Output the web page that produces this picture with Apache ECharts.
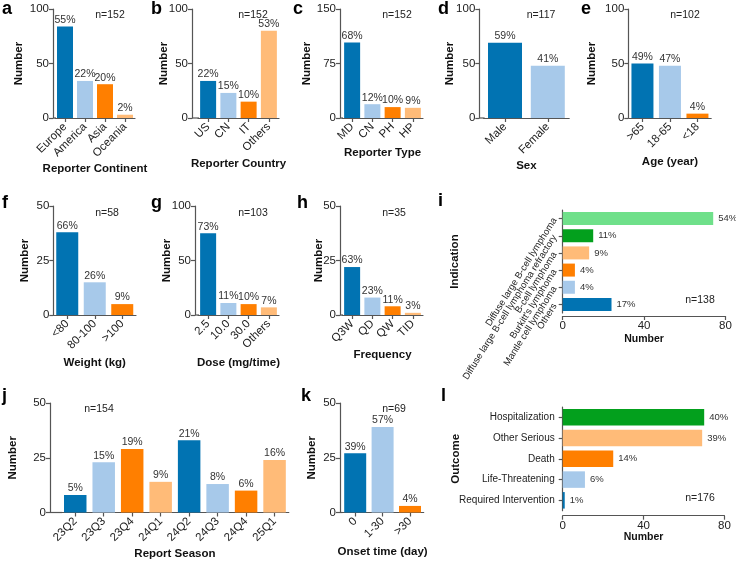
<!DOCTYPE html>
<html>
<head>
<meta charset="utf-8">
<script src="https://cdn.jsdelivr.net/npm/echarts@6/dist/echarts.min.js"></script>
<style>
html,body{margin:0;padding:0;background:#fff;}
#main{width:736px;height:562px;}
</style>
</head>
<body>
<div id="main"></div>
<script>
// a - reporter continent
var continentCats = ['Europe', 'America', 'Asia', 'Oceania'];
var continentVals = [84, 34, 31, 3];
var continentPct = ['55%', '22%', '20%', '2%'];
// b - reporter country
var countryCats = ['US', 'CN', 'IT', 'Others'];
var countryVals = [34, 23, 15, 80];
var countryPct = ['22%', '15%', '10%', '53%'];
// c - reporter type
var typeCats = ['MD', 'CN', 'PH', 'HP'];
var typeVals = [104, 19, 15, 14];
var typePct = ['68%', '12%', '10%', '9%'];
// d - sex
var sexCats = ['Male', 'Female'];
var sexVals = [69, 48];
var sexPct = ['59%', '41%'];
// e - age
var ageCats = ['>65', '18-65', '<18'];
var ageVals = [50, 48, 4];
var agePct = ['49%', '47%', '4%'];
// f - weight
var weightCats = ['<80', '80-100', '>100'];
var weightVals = [38, 15, 5];
var weightPct = ['66%', '26%', '9%'];
// g - dose
var doseCats = ['2.5', '10.0', '30.0', 'Others'];
var doseVals = [75, 11, 10, 7];
var dosePct = ['73%', '11%', '10%', '7%'];
// h - frequency
var freqCats = ['Q3W', 'QD', 'QW', 'TID'];
var freqVals = [22, 8, 4, 1];
var freqPct = ['63%', '23%', '11%', '3%'];
// i - indication (top to bottom)
var indicationCats = ['Diffuse large B-cell lymphoma', 'Diffuse large B-cell lymphoma refractory', 'B-cell lymphoma', "Burkitt's lymphoma", 'Mantle cell lymphoma', 'Others'];
var indicationVals = [74, 15, 13, 6, 6, 24];
var indicationPct = ['54%', '11%', '9%', '4%', '4%', '17%'];
// j - report season
var seasonCats = ['23Q2', '23Q3', '23Q4', '24Q1', '24Q2', '24Q3', '24Q4', '25Q1'];
var seasonVals = [8, 23, 29, 14, 33, 13, 10, 24];
var seasonPct = ['5%', '15%', '19%', '9%', '21%', '8%', '6%', '16%'];
// k - onset time
var onsetCats = ['0', '1-30', '>30'];
var onsetVals = [27, 39, 3];
var onsetPct = ['39%', '57%', '4%'];
// l - outcome (top to bottom)
var outcomeCats = ['Hospitalization', 'Other Serious', 'Death', 'Life-Threatening', 'Required Intervention'];
var outcomeVals = [70, 69, 25, 11, 1];
var outcomePct = ['40%', '39%', '14%', '6%', '1%'];
// sample sizes
var sampleN = [152, 152, 152, 117, 102, 58, 103, 35, 138, 154, 69, 176];

var DB = '#0173b2', LB = '#a7c9ea', OR = '#ff7f00', LO = '#ffbb78', DG = '#03a01d', LG = '#6fe08a';
var FONT = 'Arial, "Liberation Sans", sans-serif';
var AXIS = '#555';

var panels = [
  {letter: 'a', dir: 'v', cats: continentCats, vals: continentVals, pct: continentPct, n: sampleN[0],
   left: 55, top: 9, width: 80, height: 109, axisX: 53, max: 100, interval: 50, bw: 16,
   colors: [DB, LB, OR, LO], xName: 'Reporter Continent', xGap: 45, yGap: 28.5, lp: [2, 9.5], np: [110, 15.5]},
  {letter: 'b', dir: 'v', cats: countryCats, vals: countryVals, pct: countryPct, n: sampleN[1],
   left: 198, top: 9, width: 81, height: 109, axisX: 192, max: 100, interval: 50, bw: 16,
   colors: [DB, LB, OR, LO], xName: 'Reporter Country', xGap: 39.5, yGap: 22.5, lp: [151, 9.5], np: [253, 15.5]},
  {letter: 'c', dir: 'v', cats: typeCats, vals: typeVals, pct: typePct, n: sampleN[2],
   left: 342, top: 9, width: 81, height: 109, axisX: 340, max: 150, interval: 75, bw: 16,
   colors: [DB, LB, OR, LO], xName: 'Reporter Type', xGap: 29, yGap: 27.5, lp: [293, 9.5], np: [397, 15.5]},
  {letter: 'd', dir: 'v', cats: sexCats, vals: sexVals, pct: sexPct, n: sampleN[3],
   left: 483.6, top: 9, width: 85.6, height: 109, axisX: 479.3, max: 100, interval: 50, bw: 34,
   colors: [DB, LB], xName: 'Sex', xGap: 42, yGap: 23.5, lp: [438, 9.5], np: [541, 15.5]},
  {letter: 'e', dir: 'v', cats: ageCats, vals: ageVals, pct: agePct, n: sampleN[4],
   left: 628.7, top: 9, width: 82.5, height: 109, axisX: 628.3, max: 100, interval: 50, bw: 22,
   colors: [DB, LB, OR], xName: 'Age (year)', xGap: 38, yGap: 30, lp: [581, 9.5], np: [685, 15.5]},
  {letter: 'f', dir: 'v', cats: weightCats, vals: weightVals, pct: weightPct, n: sampleN[5],
   left: 53.5, top: 206, width: 82.5, height: 109, axisX: 53.3, max: 50, interval: 25, bw: 22,
   colors: [DB, LB, OR], xName: 'Weight (kg)', xGap: 41.5, yGap: 22.5, lp: [2, 203], np: [107, 212.7]},
  {letter: 'g', dir: 'v', cats: doseCats, vals: doseVals, pct: dosePct, n: sampleN[6],
   left: 198, top: 206, width: 81, height: 109, axisX: 195, max: 100, interval: 50, bw: 16,
   colors: [DB, LB, OR, LO], xName: 'Dose (mg/time)', xGap: 41.5, yGap: 22.5, lp: [151, 203], np: [253, 212.7]},
  {letter: 'h', dir: 'v', cats: freqCats, vals: freqVals, pct: freqPct, n: sampleN[7],
   left: 342, top: 206, width: 81, height: 109, axisX: 340, max: 50, interval: 25, bw: 16,
   colors: [DB, LB, OR, LO], xName: 'Frequency', xGap: 33.5, yGap: 15.5, lp: [297, 203], np: [394, 212.7]},
  {letter: 'i', dir: 'h', cats: indicationCats, vals: indicationVals, pct: indicationPct, n: sampleN[8],
   left: 562.7, top: 210, width: 162.7, height: 103, xOffset: 3, max: 80, interval: 40, bw: 13,
   colors: [LG, DG, LO, OR, LB, DB], yName: 'Indication', xGap: 18, yGap: 102, rotate: 58, labelSize: 9.5,
   lp: [438, 201], np: [700, 300]},
  {letter: 'j', dir: 'v', cats: seasonCats, vals: seasonVals, pct: seasonPct, n: sampleN[9],
   left: 61, top: 403, width: 227.8, height: 109.5, axisX: 50, max: 50, interval: 25, bw: 22.5,
   colors: [DB, LB, OR, LO, DB, LB, OR, LO], xName: 'Report Season', xGap: 35, yGap: 31.5, lp: [2, 396.5], np: [99, 409]},
  {letter: 'k', dir: 'v', cats: onsetCats, vals: onsetVals, pct: onsetPct, n: sampleN[10],
   left: 341.5, top: 403, width: 82.2, height: 109.5, axisX: 340, max: 50, interval: 25, bw: 22,
   colors: [DB, LB, OR], xName: 'Onset time (day)', xGap: 33, yGap: 22.5, lp: [301, 396.5], np: [394, 409]},
  {letter: 'l', dir: 'h', cats: outcomeCats, vals: outcomeVals, pct: outcomePct, n: sampleN[11],
   left: 562.7, top: 407, width: 161.7, height: 103.7, xOffset: 5, max: 80, interval: 40, bw: 16.5,
   colors: [DG, LO, OR, LB, DB], yName: 'Outcome', xGap: 16, yGap: 101, rotate: 0, labelSize: 10,
   lp: [441, 396.5], np: [700, 498]}
];

var grids = [], xAxes = [], yAxes = [], series = [], graphics = [];

var lineStyle = {color: AXIS, width: 1.2};
var tickLabel = {color: '#222', fontSize: 11.5, fontFamily: FONT};
var nameStyle = {color: '#111', fontSize: 11.5, fontWeight: 'bold', fontFamily: FONT};

panels.forEach(function (p, i) {
  grids.push({left: p.left, top: p.top, width: p.width, height: p.height,
    containLabel: false, outerBoundsMode: 'none'});
  var catAxis = {
    type: 'category', gridIndex: i, data: p.cats,
    axisLine: {show: true, lineStyle: lineStyle},
    axisTick: {show: true, alignWithLabel: true, length: 4, lineStyle: lineStyle},
    splitLine: {show: false},
    nameLocation: 'middle', nameMoveOverlap: false, nameTextStyle: nameStyle
  };
  var valAxis = {
    type: 'value', gridIndex: i, min: 0, max: p.max, interval: p.interval,
    axisLine: {show: true, lineStyle: lineStyle},
    axisTick: {show: true, length: 4, lineStyle: lineStyle},
    axisLabel: Object.assign({margin: 4}, tickLabel),
    splitLine: {show: false},
    name: 'Number', nameLocation: 'middle', nameMoveOverlap: false, nameTextStyle: nameStyle
  };
  var pct = p.pct;
  if (p.dir === 'v') {
    catAxis.axisLabel = Object.assign({rotate: 45, interval: 0, margin: 7}, tickLabel);
    catAxis.name = p.xName;
    catAxis.nameGap = p.xGap;
    valAxis.offset = p.left - p.axisX;
    valAxis.nameGap = p.yGap;
    xAxes.push(catAxis);
    yAxes.push(valAxis);
    if (p.left - p.axisX > 0.5) {
      // join the shifted y axis to the x axis baseline
      graphics.push({type: 'line', z: 10,
        shape: {x1: p.axisX, y1: p.top + p.height, x2: p.left + 1, y2: p.top + p.height},
        style: {stroke: AXIS, lineWidth: 1.2}});
    }
  } else {
    catAxis.inverse = true;
    catAxis.axisLabel = Object.assign({}, tickLabel, {rotate: p.rotate, interval: 0, margin: 8, fontSize: p.labelSize});
    catAxis.name = p.yName;
    catAxis.nameGap = p.yGap;
    valAxis.offset = p.xOffset;
    valAxis.nameGap = p.xGap;
    valAxis.nameTextStyle = Object.assign({}, nameStyle, {fontSize: 10.5});
    yAxes.push(catAxis);
    xAxes.push(valAxis);
  }
  var colors = p.colors;
  series.push({
    type: 'bar', xAxisIndex: i, yAxisIndex: i, data: p.vals, barWidth: p.bw,
    itemStyle: {color: function (d) { return colors[d.dataIndex]; }},
    label: {show: true, position: p.dir === 'v' ? 'top' : 'right', distance: p.dir === 'v' ? 1 : 5,
      color: '#333', fontSize: p.dir === 'v' ? 10.5 : 9.5, fontFamily: FONT,
      formatter: function (d) { return pct[d.dataIndex]; }}
  });
  graphics.push({type: 'text', x: p.lp[0], y: p.lp[1],
    style: {text: p.letter, font: 'bold 18px ' + FONT, fill: '#000', align: 'left', verticalAlign: 'middle'}});
  graphics.push({type: 'text', x: p.np[0], y: p.np[1],
    style: {text: 'n=' + p.n, font: '10.5px ' + FONT, fill: '#222', align: 'center', verticalAlign: 'middle'}});
});

var myChart = echarts.init(document.getElementById('main'));
myChart.setOption({
  animation: false,
  backgroundColor: '#fff',
  grid: grids,
  xAxis: xAxes,
  yAxis: yAxes,
  series: series,
  graphic: graphics
});
</script>
</body>
</html>
